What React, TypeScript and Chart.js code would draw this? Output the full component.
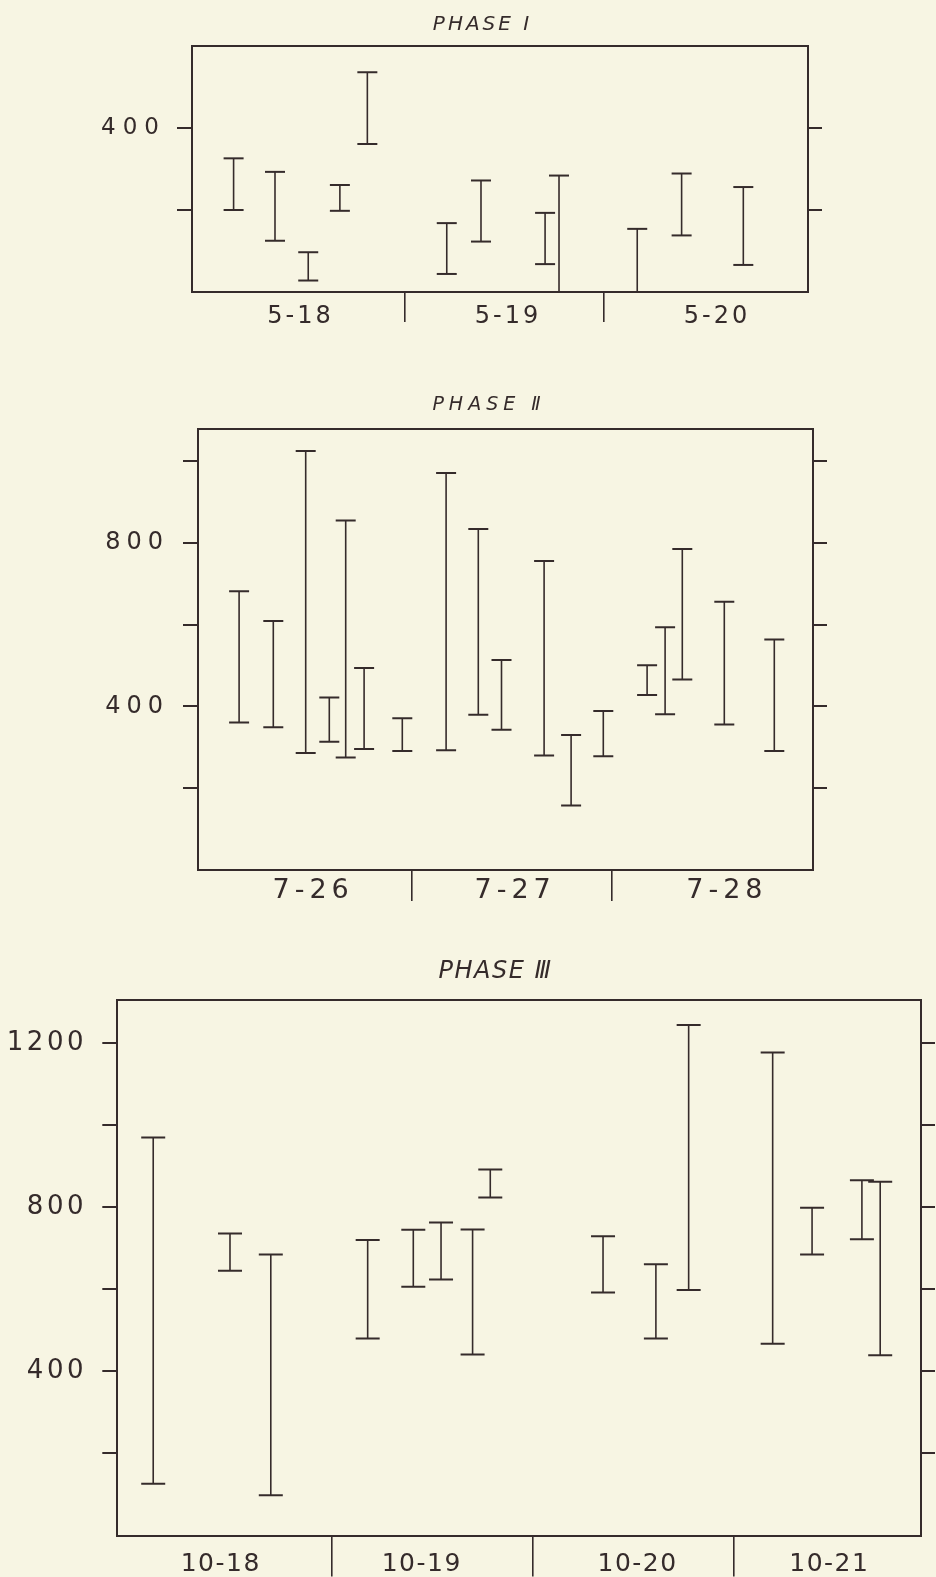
import React, { useEffect, useRef } from 'react';
import { Chart, registerables } from 'chart.js';

Chart.register(...registerables);

// ---------------- DATA ----------------
// Phase I (days 5-18, 5-19, 5-20); x = position within the day sequence
const p1Days = ['5-18', '5-19', '5-20'];
const p1X = [0.139, 0.347, 0.514, 0.673, 0.811, 1.21, 1.382, 1.704, 1.774, 2.167, 2.39, 2.7];
const p1Low = [200, 125, 28, 198, 361, 44, 123, 68, 0, 0, 138, 66];
const p1High = [326, 293, 97, 261, 536, 168, 272, 193, 284, 154, 289, 256];
const p1YTicks = [200, 400];
const p1YLabels = [400];

// Phase II (days 7-26, 7-27, 7-28)
const p2Days = ['7-26', '7-27', '7-28'];
const p2X = [0.137, 0.308, 0.47, 0.588, 0.67, 0.762, 0.953, 1.172, 1.333, 1.449, 1.662, 1.797, 1.958, 2.177, 2.267, 2.353, 2.563, 2.813];
const p2Low = [361, 349, 286, 314, 275, 296, 291, 293, 380, 343, 280, 158, 278, 428, 381, 466, 356, 291];
const p2High = [682, 609, 1025, 422, 855, 494, 371, 971, 834, 514, 756, 330, 389, 501, 594, 785, 656, 564];
const p2YTicks = [200, 400, 600, 800, 1000];
const p2YLabels = [400, 800];

// Phase III (days 10-18 .. 10-21)
const p3Days = ['10-18', '10-19', '10-20', '10-21'];
const p3X = [0.109, 0.491, 0.694, 1.176, 1.403, 1.541, 1.698, 1.786, 2.347, 2.61, 2.773, 3.191, 3.387, 3.635, 3.726];
const p3Low = [126, 645, 98, 480, 606, 624, 441, 824, 592, 480, 598, 467, 685, 722, 439];
const p3High = [970, 736, 685, 720, 745, 763, 746, 892, 729, 661, 1244, 1177, 799, 866, 862];
const p3YTicks = [200, 400, 600, 800, 1000, 1200];
const p3YLabels = [400, 800, 1200];

// ---------------- STYLE ----------------
const INK = '#352b2b';
const PAPER = '#f7f5e3';
const FONT = "'DejaVu Sans', 'Liberation Sans', sans-serif";

type PanelCfg = {
  title: string;
  days: string[];
  dayPos: number[];
  seps: number[];
  x: number[];
  low: number[];
  high: number[];
  yTicks: number[];
  yLabels: number[];
  xMin: number;
  xMax: number;
  yMax: number;
  top: number;
  height: number;
  padLeft: number;
  padRight: number;
  leftW: number;
  rightW: number;
  xAxisH: number;
  titleSize: number;
  titlePadTop: number;
  titlePadBottom: number;
  xFont: number;
  yFont: number;
  xLabelPad: number;
  yLabelPad: number;
  sepLen: number;
  cap: number;
  lsX: number;
  lsY: number;
};

const panels: PanelCfg[] = [
  {
    title: 'PHASE Ⅰ', days: p1Days, dayPos: [0.475, 1.518, 2.568], seps: [1, 2],
    x: p1X, low: p1Low, high: p1High, yTicks: p1YTicks, yLabels: p1YLabels,
    xMin: -0.07, xMax: 3.025, yMax: 600,
    top: 0, height: 340, padLeft: 29, padRight: 0, leftW: 163, rightW: 128, xAxisH: 48,
    titleSize: 20, titlePadTop: 13, titlePadBottom: 9,
    xFont: 24, yFont: 23, xLabelPad: -19.4, yLabelPad: 11, sepLen: 30, cap: 10, lsX: 3, lsY: 7,
  },
  {
    title: 'PHASE Ⅱ', days: p2Days, dayPos: [0.507, 1.517, 2.576], seps: [1, 2],
    x: p2X, low: p2Low, high: p2High, yTicks: p2YTicks, yLabels: p2YLabels,
    xMin: -0.0685, xMax: 3.0065, yMax: 1080,
    top: 375, height: 540, padLeft: 42, padRight: 0, leftW: 156, rightW: 123, xAxisH: 45,
    titleSize: 19, titlePadTop: 19, titlePadBottom: 11.7,
    xFont: 27, yFont: 24, xLabelPad: -26.2, yLabelPad: 14, sepLen: 31, cap: 10, lsX: 5, lsY: 6,
  },
  {
    title: 'PHASE Ⅲ', days: p3Days, dayPos: [0.445, 1.445, 2.519, 3.473], seps: [1, 2, 3],
    x: p3X, low: p3Low, high: p3High, yTicks: p3YTicks, yLabels: p3YLabels,
    xMin: -0.0697, xMax: 3.929, yMax: 1305,
    top: 940, height: 637, padLeft: 0, padRight: -55, leftW: 117.3, rightW: 70, xAxisH: 41.5,
    titleSize: 24, titlePadTop: 17.6, titlePadBottom: 13.6,
    xFont: 25, yFont: 26, xLabelPad: -27.5, yLabelPad: 15.3, sepLen: 41, cap: 12, lsX: 1.5, lsY: 3.5,
  },
];

// letter spacing: titles and day labels (drawn before datasets), y labels (drawn after datasets, z = 1)
const spacingPlugin = {
  id: 'spacing',
  beforeDraw(chart: any, _args: any, opts: any) {
    chart.ctx.letterSpacing = (opts && opts.x ? opts.x : 0) + 'px';
  },
  afterDatasetsDraw(chart: any, _args: any, opts: any) {
    chart.ctx.letterSpacing = (opts && opts.y ? opts.y : 0) + 'px';
  },
  afterDraw(chart: any) {
    chart.ctx.letterSpacing = '0px';
  },
};

function buildConfig(p: PanelCfg): any {
  const ticksX = [
    ...p.dayPos.map((v, i) => ({ value: v, text: p.days[i] })),
    ...p.seps.map((v) => ({ value: v, text: '' })),
  ].sort((a, b) => a.value - b.value);

  const datasets = p.x.map((x, i) => ({
    data: [
      { x, y: p.low[i] },
      { x, y: p.high[i] },
    ],
    showLine: true,
    borderColor: INK,
    borderWidth: 1.6,
    pointStyle: 'line',
    pointRadius: p.cap,
    pointHoverRadius: p.cap,
    pointBorderWidth: 2,
    pointBorderColor: INK,
    pointBackgroundColor: INK,
  }));

  return {
    type: 'scatter',
    data: { datasets },
    plugins: [spacingPlugin],
    options: {
      responsive: false,
      maintainAspectRatio: false,
      animation: false,
      events: [],
      layout: { padding: { left: p.padLeft, right: p.padRight, top: 0, bottom: 0 } },
      plugins: {
        legend: { display: false },
        tooltip: { enabled: false },
        title: {
          display: true,
          text: p.title,
          color: INK,
          font: { family: FONT, size: p.titleSize, style: 'italic', weight: 'normal' },
          padding: { top: p.titlePadTop, bottom: p.titlePadBottom },
        },
        spacing: { x: p.lsX, y: p.lsY },
      },
      scales: {
        x: {
          type: 'linear',
          position: 'bottom',
          min: p.xMin,
          max: p.xMax,
          bounds: 'data',
          afterBuildTicks: (s: any) => {
            s.ticks = ticksX.map((t) => ({ value: t.value }));
          },
          afterFit: (s: any) => {
            s.height = p.xAxisH;
          },
          ticks: {
            autoSkip: false,
            maxRotation: 0,
            minRotation: 0,
            padding: p.xLabelPad,
            color: INK,
            font: { family: FONT, size: p.xFont, weight: 'normal' },
            callback: (_v: any, i: number) => (ticksX[i] ? ticksX[i].text : ''),
          },
          grid: {
            drawOnChartArea: false,
            drawTicks: true,
            tickLength: p.sepLen,
            lineWidth: 1.6,
            color: (c: any) => (ticksX[c.index] && ticksX[c.index].text === '' ? INK : 'rgba(0,0,0,0)'),
          },
          border: { display: true, color: INK, width: 2 },
        },
        xTop: {
          type: 'linear',
          position: 'top',
          min: p.xMin,
          max: p.xMax,
          afterFit: (s: any) => {
            s.height = 0;
          },
          ticks: { display: false },
          grid: { drawOnChartArea: false, drawTicks: false },
          border: { display: true, color: INK, width: 2 },
        },
        y: {
          type: 'linear',
          position: 'left',
          min: 0,
          max: p.yMax,
          bounds: 'data',
          afterBuildTicks: (s: any) => {
            s.ticks = p.yTicks.map((v) => ({ value: v }));
          },
          afterFit: (s: any) => {
            s.width = p.leftW;
          },
          ticks: {
            z: 1,
            autoSkip: false,
            padding: p.yLabelPad,
            color: INK,
            font: { family: FONT, size: p.yFont, weight: 'normal' },
            callback: (v: any) => (p.yLabels.includes(Number(v)) ? String(v) : ''),
          },
          grid: { drawOnChartArea: false, drawTicks: true, tickLength: 15, lineWidth: 2, color: INK },
          border: { display: true, color: INK, width: 2 },
        },
        yR: {
          type: 'linear',
          position: 'right',
          min: 0,
          max: p.yMax,
          bounds: 'data',
          afterBuildTicks: (s: any) => {
            s.ticks = p.yTicks.map((v) => ({ value: v }));
          },
          afterFit: (s: any) => {
            s.width = p.rightW;
          },
          ticks: { display: false },
          grid: { drawOnChartArea: false, drawTicks: true, tickLength: 14, lineWidth: 2, color: INK },
          border: { display: true, color: INK, width: 2 },
        },
      },
    },
  };
}

function Panel({ cfg }: { cfg: PanelCfg }) {
  const ref = useRef<HTMLCanvasElement | null>(null);
  useEffect(() => {
    if (!ref.current) return;
    const chart = new Chart(ref.current, buildConfig(cfg));
    return () => chart.destroy();
  }, [cfg]);
  return (
    <canvas
      ref={ref}
      width={936}
      height={cfg.height}
      style={{ position: 'absolute', left: 0, top: cfg.top, width: 936, height: cfg.height }}
    />
  );
}

export default function App() {
  return (
    <div
      style={{
        position: 'absolute',
        left: 0,
        top: 0,
        width: 936,
        height: 1577,
        background: PAPER,
        overflow: 'hidden',
      }}
    >
      {panels.map((p, i) => (
        <Panel key={i} cfg={p} />
      ))}
    </div>
  );
}
